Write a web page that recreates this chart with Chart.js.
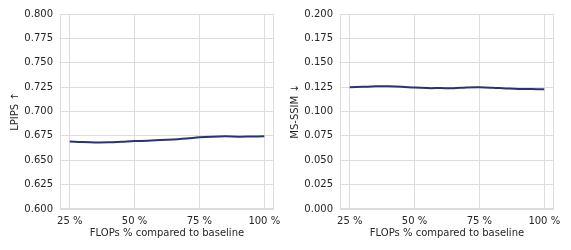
<!DOCTYPE html>
<html>
<head>
<meta charset="utf-8">
<script src="https://cdn.jsdelivr.net/npm/chart.js@4/dist/chart.umd.min.js"></script>
<style>
  html, body { margin: 0; padding: 0; background: #fff; }
  #wrap { position: relative; width: 571px; height: 250px; }
  .box { position: absolute; top: 0; height: 250px; }
</style>
</head>
<body>
<div id="wrap">
  <div class="box" style="left:0;width:280px"><canvas id="chart-lpips"></canvas></div>
  <div class="box" style="left:280px;width:291px"><canvas id="chart-msssim"></canvas></div>
</div>
<script>
// ─── DATA ───────────────────────────────────────────
const flops   = [25, 30, 35, 40, 45, 50, 55, 60, 65, 70, 75, 80, 85, 90, 95, 100];
const lpips   = [0.6692, 0.6686, 0.6683, 0.6684, 0.6690, 0.6697, 0.6700, 0.6707,
                 0.6714, 0.6722, 0.6735, 0.6742, 0.6745, 0.6742, 0.6743, 0.6745];
const msssim  = [0.1248, 0.1253, 0.1258, 0.1259, 0.1255, 0.1245, 0.1240, 0.1240,
                 0.1239, 0.1246, 0.1248, 0.1244, 0.1237, 0.1231, 0.1230, 0.1228];
const xTicks  = [25, 50, 75, 100];
const xLabel  = 'FLOPs % compared to baseline';

// ─── STYLE ──────────────────────────────────────────
const FONT = "'DejaVu Sans', sans-serif";
const TEXT = '#262626';
const GRID = '#dddddd';
const LINE = '#283470';

Chart.defaults.font.family = FONT;
Chart.defaults.font.size = 10;
Chart.defaults.color = TEXT;

// frame round the plot area (matplotlib spines)
const framePlugin = {
  id: 'frame',
  afterDraw(chart) {
    const { ctx, chartArea: a } = chart;
    ctx.save();
    ctx.strokeStyle = GRID;
    ctx.lineWidth = 1;
    ctx.strokeRect(a.left + 0.5, a.top + 0.5, a.right - a.left - 1, a.bottom - a.top - 1);
    ctx.restore();
  }
};

// fixed axis sizes, no extra padding for overflowing tick labels
function fixX(s) { s.height = 41; s.paddingLeft = 0; s.paddingRight = 0; }
function fixY(s) { s.width = 60; s.paddingTop = 0; s.paddingBottom = 0; }

function makeChart(canvasId, values, yMin, yMax, yTitle, padRight) {
  return new Chart(document.getElementById(canvasId), {
    type: 'line',
    data: {
      datasets: [{
        data: flops.map((x, i) => ({ x, y: values[i] })),
        borderColor: LINE,
        borderWidth: 2,
        pointRadius: 0,
        tension: 0.4,
        fill: false,
      }]
    },
    options: {
      responsive: true,
      maintainAspectRatio: false,
      animation: false,
      layout: { padding: { top: 14, right: padRight, left: 0, bottom: 0 } },
      plugins: { legend: { display: false }, tooltip: { enabled: false } },
      scales: {
        x: {
          type: 'linear',
          min: 21.25,
          max: 103.75,
          afterBuildTicks: s => { s.ticks = xTicks.map(v => ({ value: v })); },
          afterFit: fixX,
          grid: { color: GRID, drawTicks: false },
          border: { display: false },
          ticks: { padding: 6, maxRotation: 0, callback: v => v + ' %' },
          title: { display: true, text: xLabel, padding: { top: 0, bottom: 11 } },
        },
        y: {
          min: yMin,
          max: yMax,
          afterFit: fixY,
          grid: { color: GRID, drawTicks: false },
          border: { display: false },
          ticks: { stepSize: 0.025, padding: 7, callback: v => v.toFixed(3) },
          title: { display: true, text: yTitle, padding: { top: 9, bottom: 0 } },
        }
      }
    },
    plugins: [framePlugin]
  });
}

makeChart('chart-lpips', lpips, 0.6, 0.8, 'LPIPS \u2191', 6);
makeChart('chart-msssim', msssim, 0.0, 0.2, 'MS-SSIM \u2193', 17);
</script>
</body>
</html>
